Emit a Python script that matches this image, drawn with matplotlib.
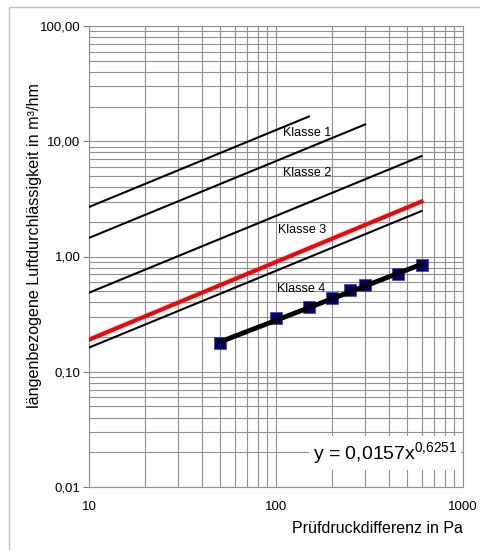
import matplotlib
matplotlib.use("Agg")
import matplotlib.pyplot as plt
from matplotlib.ticker import FixedLocator, LogLocator, NullFormatter
from matplotlib.patches import Rectangle
import numpy as np

plt.rcParams['font.family'] = ['Liberation Sans', 'DejaVu Sans']
plt.rcParams['mathtext.fontset'] = 'custom'
plt.rcParams['mathtext.rm'] = 'Liberation Sans'
plt.rcParams['mathtext.it'] = 'Liberation Sans'
plt.rcParams['mathtext.default'] = 'rm'

# Class boundary lines (end points)
class_names = ["Klasse 1", "Klasse 2", "Klasse 3", "Klasse 4"]
class_x = [[10, 150], [10, 300], [10, 600], [10, 600]]
class_y = [[2.69, 16.4], [1.45, 14.0], [0.485, 7.43], [0.162, 2.48]]
label_x = [146, 146, 137, 137]
label_y = [11.8, 5.27, 1.70, 0.52]

# Red reference line
red_x = [10, 600]
red_y = [0.19, 3.0]

# Measured data
meas_x = [50, 100, 150, 200, 250, 300, 450, 600]
meas_y = [0.177, 0.294, 0.367, 0.434, 0.512, 0.566, 0.705, 0.844]

# Power trendline
trend_coef = 0.0157
trend_exp = 0.6251

y_ticks = [0.01, 0.1, 1, 10, 100]
y_ticklabels = ["0,01", "0,10", "1,00", "10,00", "100,00"]
x_ticks = [10, 100, 1000]
x_ticklabels = ["10", "100", "1000"]

fig = plt.figure(figsize=(4.8, 5.5), dpi=100)
# outer chart border
fig.patches.append(Rectangle((9 / 480, -0.01), 1.0, 1 - 7 / 550 + 0.01,
                             transform=fig.transFigure, fill=False,
                             edgecolor="#c0c0c0", linewidth=1.0))

ax = fig.add_axes([89 / 480, 1 - 487 / 550, (463 - 89) / 480, (487 - 26) / 550])
ax.set_xscale("log")
ax.set_yscale("log")
ax.set_xlim(10, 1000)
ax.set_ylim(0.01, 100)

ax.xaxis.set_major_locator(FixedLocator(x_ticks))
ax.set_xticklabels(x_ticklabels)
ax.yaxis.set_major_locator(FixedLocator(y_ticks))
ax.set_yticklabels(y_ticklabels)
ax.xaxis.set_minor_locator(LogLocator(base=10, subs=np.arange(2, 10)))
ax.yaxis.set_minor_locator(LogLocator(base=10, subs=np.arange(2, 10)))
ax.xaxis.set_minor_formatter(NullFormatter())
ax.yaxis.set_minor_formatter(NullFormatter())

ax.grid(True, which="both", color="#909090", linewidth=0.8)
ax.tick_params(axis="y", which="major", length=4, color="#808080", labelsize=9.5, pad=2)
ax.tick_params(axis="x", which="major", length=0, labelsize=9.5, pad=10)
ax.tick_params(which="minor", length=0)
for s in ax.spines.values():
    s.set_color("#909090")
    s.set_linewidth(0.8)

for cx, cy in zip(class_x, class_y):
    ax.plot(cx, cy, color="black", linewidth=1.5, zorder=3)
for name, lx, ly in zip(class_names, label_x, label_y):
    ax.text(lx, ly, name, fontsize=9, ha="center", va="center", zorder=4)

ax.plot(red_x, red_y, color="#ff0000", linewidth=3, zorder=3)

tx = np.array([meas_x[0], meas_x[-1]], dtype=float)
ax.plot(tx, trend_coef * tx ** trend_exp, color="black", linewidth=3.5, zorder=5)
ax.scatter(meas_x, meas_y, marker="s", s=70, color="#000080",
           edgecolors="#4040a0", linewidths=0.5, zorder=4)

eq = "y = 0,0157x$^{0{,}6251}$"
ax.text(0.985, 0.045, eq, transform=ax.transAxes, fontsize=14,
        ha="right", va="bottom", zorder=6,
        bbox=dict(facecolor="white", edgecolor="none", pad=3))

ax.set_xlabel("Prüfdruckdifferenz in Pa", fontsize=11.5, loc="right", labelpad=6)
ax.set_ylabel("längenbezogene Luftdurchlässigkeit in m³/hm", fontsize=11.6)
ax.yaxis.set_label_coords((42 - 89) / 374, (487 - 245) / 461)

fig.savefig("out.png", dpi=100)
